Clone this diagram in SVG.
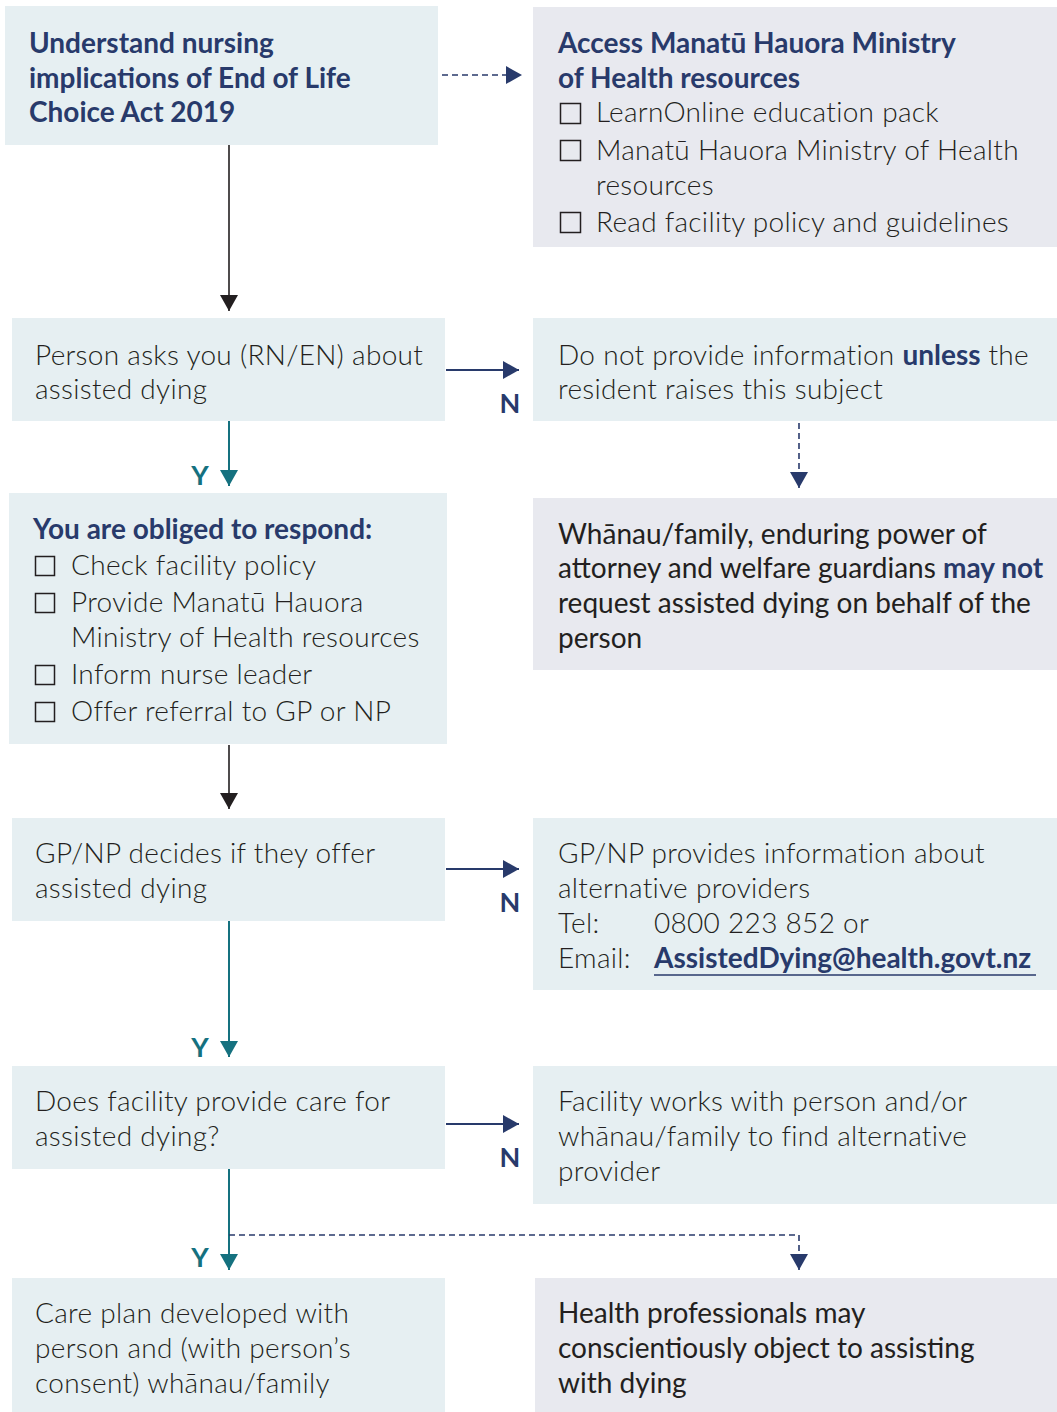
<svg xmlns="http://www.w3.org/2000/svg" width="1057" height="1412" viewBox="0 0 1057 1412">
<style>
.bl{fill:#e6eff2}
.gr{fill:#e8e9ef}
.t{font-family:Lato,"Liberation Sans",sans-serif;font-size:28px;font-weight:300;fill:#231f20;letter-spacing:0.3px}
.r{font-weight:400;letter-spacing:0}
.h{font-family:Lato,"Liberation Sans",sans-serif;font-size:28px;font-weight:700;fill:#283a6b}
.b{font-weight:700;fill:#283a6b;letter-spacing:0}
.yn{font-family:Lato,"Liberation Sans",sans-serif;font-size:27px;font-weight:700}
.cb{fill:none;stroke:#231f20;stroke-width:1.5}
.navy{stroke:#283a6b;stroke-width:2;fill:none}
.dash{stroke:#283a6b;stroke-width:1.6;fill:none;stroke-dasharray:6 4}
.teal{stroke:#15717f;stroke-width:2;fill:none}
.blk{stroke:#231f20;stroke-width:1.6;fill:none}
</style>
<defs>
<marker id="aN" markerWidth="18" markerHeight="18" viewBox="0 0 16 18" refX="16" refY="9" orient="auto" markerUnits="userSpaceOnUse"><path d="M0,0 L16,9 L0,18 Z" fill="#283a6b"/></marker>
<marker id="aT" markerWidth="18" markerHeight="18" viewBox="0 0 16 18" refX="16" refY="9" orient="auto" markerUnits="userSpaceOnUse"><path d="M0,0 L16,9 L0,18 Z" fill="#15717f"/></marker>
<marker id="aK" markerWidth="18" markerHeight="18" viewBox="0 0 16 18" refX="16" refY="9" orient="auto" markerUnits="userSpaceOnUse"><path d="M0,0 L16,9 L0,18 Z" fill="#231f20"/></marker>
</defs>

<g id="connectors">
<path class="dash" d="M442,75 H522" marker-end="url(#aN)"/>
<path class="blk" d="M229,145 V311" marker-end="url(#aK)"/>
<path class="navy" d="M446,370 H519" marker-end="url(#aN)"/>
<text class="yn" x="510" y="413" text-anchor="middle" fill="#283a6b">N</text>
<path class="teal" d="M229,421 V486" marker-end="url(#aT)"/>
<text class="yn" x="200" y="485" text-anchor="middle" fill="#15717f">Y</text>
<path class="dash" d="M799,423 V488" marker-end="url(#aN)"/>
<path class="blk" d="M229,745 V809" marker-end="url(#aK)"/>
<path class="navy" d="M446,869 H519" marker-end="url(#aN)"/>
<text class="yn" x="510" y="912" text-anchor="middle" fill="#283a6b">N</text>
<path class="teal" d="M229,921 V1057" marker-end="url(#aT)"/>
<text class="yn" x="200" y="1057" text-anchor="middle" fill="#15717f">Y</text>
<path class="navy" d="M446,1124 H519" marker-end="url(#aN)"/>
<text class="yn" x="510" y="1167" text-anchor="middle" fill="#283a6b">N</text>
<path class="teal" d="M229,1169 V1270" marker-end="url(#aT)"/>
<text class="yn" x="200" y="1267" text-anchor="middle" fill="#15717f">Y</text>
<path class="dash" d="M229,1235 H799 V1270" marker-end="url(#aN)"/>
</g>

<g id="node-understand">
<rect class="bl" x="5" y="6" width="433" height="139"/>
<text class="h" x="29" y="53">Understand nursing</text>
<text class="h" x="29" y="88">implications of End of Life</text>
<text class="h" x="29" y="122">Choice Act 2019</text>
</g>

<g id="node-access">
<rect class="gr" x="533" y="7" width="524" height="240"/>
<text class="h" x="558" y="53">Access Manatū Hauora Ministry</text>
<text class="h" x="558" y="88">of Health resources</text>
<rect class="cb" x="560.5" y="103.5" width="20" height="20"/>
<text class="t" x="596" y="122">LearnOnline education pack</text>
<rect class="cb" x="560.5" y="140.5" width="20" height="20"/>
<text class="t" x="596" y="160">Manatū Hauora Ministry of Health</text>
<text class="t" x="596" y="195">resources</text>
<rect class="cb" x="560.5" y="212.5" width="20" height="20"/>
<text class="t" x="596" y="232">Read facility policy and guidelines</text>
</g>

<g id="node-person-asks">
<rect class="bl" x="12" y="318" width="433" height="103"/>
<text class="t" x="35" y="365">Person asks you (RN/EN) about</text>
<text class="t" x="35" y="399">assisted dying</text>
</g>

<g id="node-do-not">
<rect class="bl" x="533" y="318" width="524" height="103"/>
<text class="t" x="558" y="365">Do not provide information <tspan class="b">unless</tspan> the</text>
<text class="t" x="558" y="399">resident raises this subject</text>
</g>

<g id="node-obliged">
<rect class="bl" x="9" y="493" width="438" height="251"/>
<text class="h" x="33" y="539">You are obliged to respond:</text>
<rect class="cb" x="35.5" y="556.5" width="19" height="19"/>
<text class="t" x="71" y="575">Check facility policy</text>
<rect class="cb" x="35.5" y="593.5" width="19" height="19"/>
<text class="t" x="71" y="612">Provide Manatū Hauora</text>
<text class="t" x="71" y="647">Ministry of Health resources</text>
<rect class="cb" x="35.5" y="665.5" width="19" height="19"/>
<text class="t" x="71" y="684">Inform nurse leader</text>
<rect class="cb" x="35.5" y="702.5" width="19" height="19"/>
<text class="t" x="71" y="721">Offer referral to GP or NP</text>
</g>

<g id="node-whanau">
<rect class="gr" x="533" y="498" width="524" height="172"/>
<text class="t r" x="558" y="544">Whānau/family, enduring power of</text>
<text class="t r" x="558" y="578">attorney and welfare guardians <tspan class="b">may not</tspan></text>
<text class="t r" x="558" y="613">request assisted dying on behalf of the</text>
<text class="t r" x="558" y="648">person</text>
</g>

<g id="node-gp-decides">
<rect class="bl" x="12" y="818" width="433" height="103"/>
<text class="t" x="35" y="863">GP/NP decides if they offer</text>
<text class="t" x="35" y="898">assisted dying</text>
</g>

<g id="node-gp-provides">
<rect class="bl" x="533" y="818" width="524" height="172"/>
<text class="t" x="558" y="863">GP/NP provides information about</text>
<text class="t" x="558" y="898">alternative providers</text>
<text class="t" x="558" y="933">Tel:</text>
<text class="t" x="654" y="933">0800 223 852 or</text>
<text class="t" x="558" y="968">Email:</text>
<text class="t b" x="654" y="968">AssistedDying@health.govt.nz</text>
<line x1="654" y1="975" x2="1036" y2="975" stroke="#283a6b" stroke-width="1.5"/>
</g>

<g id="node-facility-care">
<rect class="bl" x="12" y="1066" width="433" height="103"/>
<text class="t" x="35" y="1111">Does facility provide care for</text>
<text class="t" x="35" y="1146">assisted dying?</text>
</g>

<g id="node-facility-works">
<rect class="bl" x="533" y="1066" width="524" height="138"/>
<text class="t" x="558" y="1111">Facility works with person and/or</text>
<text class="t" x="558" y="1146">whānau/family to find alternative</text>
<text class="t" x="558" y="1181">provider</text>
</g>

<g id="node-care-plan">
<rect class="bl" x="12" y="1278" width="433" height="134"/>
<text class="t" x="35" y="1323">Care plan developed with</text>
<text class="t" x="35" y="1358">person and (with person’s</text>
<text class="t" x="35" y="1393">consent) whānau/family</text>
</g>

<g id="node-objection">
<rect class="gr" x="535" y="1278" width="522" height="134"/>
<text class="t r" x="558" y="1323">Health professionals may</text>
<text class="t r" x="558" y="1358">conscientiously object to assisting</text>
<text class="t r" x="558" y="1393">with dying</text>
</g>
</svg>
